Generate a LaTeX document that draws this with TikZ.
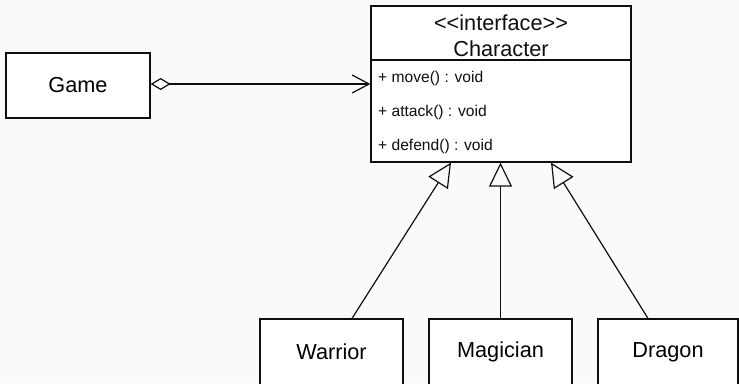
\documentclass[tikz,border=0pt]{standalone}
\usepackage{fontspec}
\setmainfont{Liberation Sans}
\usetikzlibrary{arrows.meta}
\definecolor{bg}{RGB}{250,250,250}
\definecolor{ink}{RGB}{15,15,15}
\tikzset{
  box/.style={draw=ink, fill=white, line width=1.2bp, inner sep=0pt, font=\fontsize{21.7bp}{26bp}\selectfont},
  meth/.style={anchor=west, inner sep=0pt, font=\fontsize{15.6bp}{18bp}\selectfont, text=ink},
  title/.style={inner sep=0pt, align=center, font=\fontsize{21.7bp}{26bp}\selectfont, text=ink},
  conn/.style={draw=ink, line width=1.2bp},
  realize/.style={conn, -{Triangle[open, length=24bp, width=23bp, line width=1.2bp]}},
  aggr/.style={conn, {Diamond[open, length=20bp, width=12bp, line width=1.2bp]}-{Straight Barb[length=17bp, width=18bp, line width=1.2bp]}}
}
\begin{document}
\begin{tikzpicture}[x=1bp, y=-1bp]
\fill[bg] (0,0) rectangle (739,383);
\useasboundingbox (0,0) rectangle (739,383);
\node[box, minimum width=144bp, minimum height=65bp] (game) at (78,85.5) {Game};
\node[box, minimum width=260bp, minimum height=156bp] (char) at (501,84) {};
\draw[conn] (371,60) coordinate (dl) -- (631,60) coordinate (dr);
\node[title] (head) at (501,36) {<{}<interface>{}>\\Character};
\node[meth] (m1) at (378,78) {+ move() : void};
\node[meth] (m2) at (378,112) {+ attack() : void};
\node[meth] (m3) at (378,146) {+ defend() : void};
\node[box, minimum width=143bp, minimum height=66bp] (warrior) at (331.5,352) {Warrior};
\node[box, minimum width=143bp, minimum height=66bp] (magician) at (500.5,352) {Magician};
\node[box, minimum width=140bp, minimum height=66bp] (dragon) at (668,352) {Dragon};
\draw[aggr] (game.east |- 0,84) -- (char.west |- 0,84);
\draw[realize] ([xshift=20.5bp]warrior.north) -- ([xshift=-50bp]char.south);
\draw[realize] (magician.north) -- (magician.north |- char.south);
\draw[realize] ([xshift=-20bp]dragon.north) -- ([xshift=50bp]char.south);
\end{tikzpicture}
\end{document}
